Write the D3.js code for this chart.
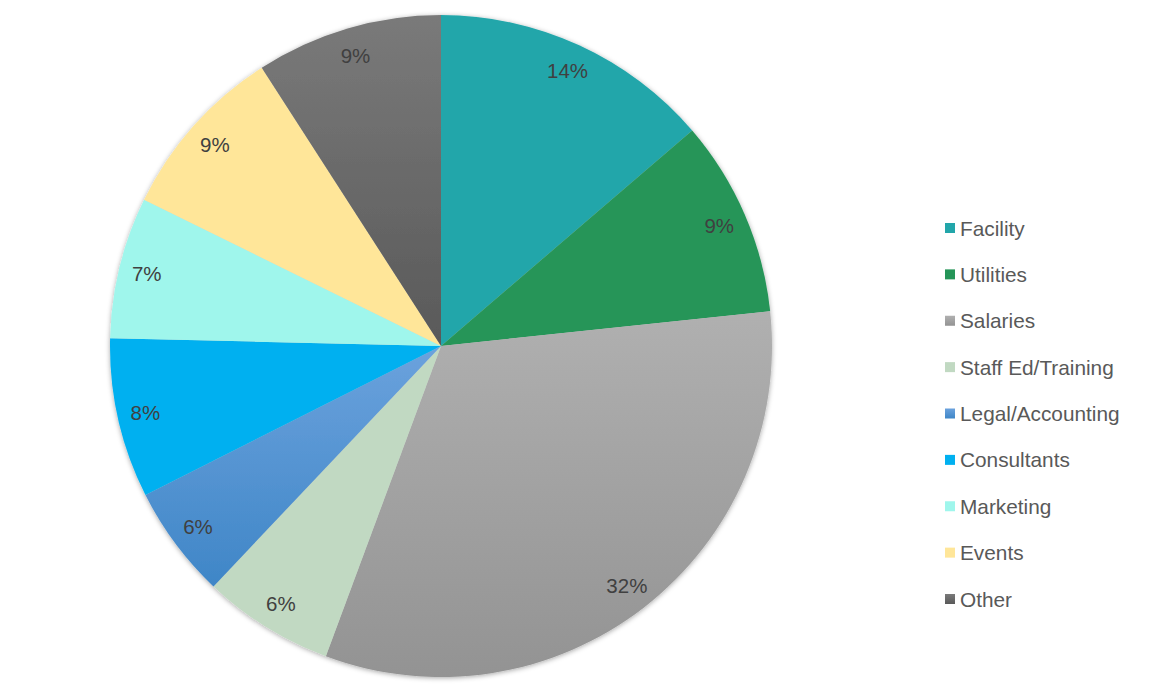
<!DOCTYPE html>
<html><head><meta charset="utf-8">
<script src="https://cdn.jsdelivr.net/npm/d3@7"></script>
<style>html,body{margin:0;padding:0;background:#fff;}svg{display:block;}</style>
</head><body><svg id="c" width="1150" height="686"></svg>
<script>
const categories = ["Facility","Utilities","Salaries","Staff Ed/Training","Legal/Accounting","Consultants","Marketing","Events","Other"];
const values = [13.7, 9.6, 32.3, 6.4, 5.5, 7.8, 6.9, 8.6, 9.1];
const labels = ["14%","9%","32%","6%","6%","8%","7%","9%","9%"];
const colorsTop = ["#22a6aa","#259558","#b0b0b0","#c1d9c2","#6ba2dd","#00b0f0","#9ff6ec","#ffe699","#7a7a7a"];
const colorsBot = ["#22a6aa","#259558","#939393","#c1d9c2","#3f86c7","#00b0f0","#9ff6ec","#ffe699","#595959"];

const svg = d3.select("#c");
const defs = svg.append("defs");
colorsTop.forEach((c,i)=>{
  const g = defs.append("linearGradient").attr("id","g"+i).attr("x1",0).attr("y1",0).attr("x2",0).attr("y2",1);
  g.append("stop").attr("offset","0%").attr("stop-color",c);
  g.append("stop").attr("offset","100%").attr("stop-color",colorsBot[i]);
});
const f = defs.append("filter").attr("id","sh").attr("x","-10%").attr("y","-10%").attr("width","120%").attr("height","120%");
f.append("feDropShadow").attr("dx",0).attr("dy",1).attr("stdDeviation",2.5).attr("flood-color","#000").attr("flood-opacity",0.35);

const cx = 441, cy = 346, R = 331;
const pie = d3.pie().sort(null).value(d=>d);
const arcs = pie(values);
const arc = d3.arc().innerRadius(0).outerRadius(R);
const g = svg.append("g").attr("transform",`translate(${cx},${cy})`);
g.append("g").attr("filter","url(#sh)").selectAll("path").data(arcs).join("path")
  .attr("d",arc).attr("fill",(d,i)=>`url(#g${i})`);
const la = d3.arc().innerRadius(303).outerRadius(303);
g.selectAll("text").data(arcs).join("text")
  .attr("transform",d=>`translate(${la.centroid(d)})`)
  .attr("text-anchor","middle").attr("dy","0.36em")
  .attr("font-family","Liberation Sans, Arial, sans-serif").attr("font-size",20.5)
  .attr("fill","#404040").text((d,i)=>labels[i]);

const y = d3.scalePoint().domain(categories).range([228,599]);
const lg = svg.append("g");
const items = lg.selectAll("g").data(categories).join("g").attr("transform",d=>`translate(945,${y(d)})`);
items.append("rect").attr("x",0).attr("y",-5).attr("width",10).attr("height",10).attr("fill",(d,i)=>`url(#g${i})`);
items.append("text").attr("x",15).attr("dy","0.36em")
  .attr("font-family","Liberation Sans, Arial, sans-serif").attr("font-size",20.8)
  .attr("fill","#595959").text(d=>d);
</script></body></html>
